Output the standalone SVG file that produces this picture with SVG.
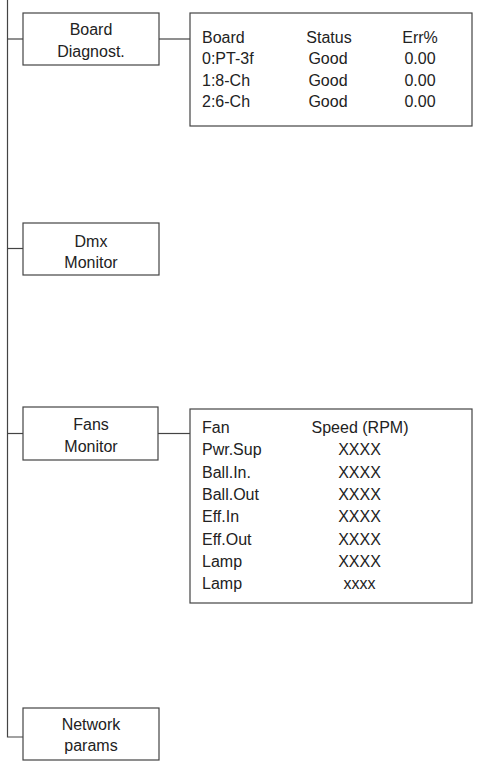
<svg xmlns="http://www.w3.org/2000/svg" width="477" height="765" viewBox="0 0 477 765">
<style>
.box{fill:#fff;stroke:#444;stroke-width:1.2}
.ln{fill:none;stroke:#444;stroke-width:1.2}
text{font-family:"Liberation Sans",Arial,sans-serif;font-size:16px;fill:#222}
.c{text-anchor:middle}
</style>
<rect width="477" height="765" fill="#fff"/>
<g id="connectors">
<path class="ln" d="M7.5 0V737H23"/>
<path class="ln" d="M7.5 39H23"/>
<path class="ln" d="M159 39H190"/>
<path class="ln" d="M7.5 248.5H23"/>
<path class="ln" d="M7.5 433.5H23"/>
<path class="ln" d="M158 433.5H190"/>
</g>
<g id="board">
<rect class="box" x="23" y="13" width="136" height="52"/>
<text class="c" x="91" y="35">Board</text>
<text class="c" x="91" y="57">Diagnost.</text>
</g>
<g id="board-table">
<rect class="box" x="190" y="13" width="282" height="113"/>
<text x="202" y="43">Board</text>
<text x="202" y="64">0:PT-3f</text>
<text x="202" y="85.5">1:8-Ch</text>
<text x="202" y="107">2:6-Ch</text>
<text class="c" x="329" y="43">Status</text>
<text class="c" x="328" y="64">Good</text>
<text class="c" x="328" y="85.5">Good</text>
<text class="c" x="328" y="107">Good</text>
<text class="c" x="420" y="43">Err%</text>
<text class="c" x="420" y="64">0.00</text>
<text class="c" x="420" y="85.5">0.00</text>
<text class="c" x="420" y="107">0.00</text>
</g>
<g id="dmx">
<rect class="box" x="23" y="223" width="136" height="52"/>
<text class="c" x="91" y="247">Dmx</text>
<text class="c" x="91" y="268">Monitor</text>
</g>
<g id="fans">
<rect class="box" x="23" y="407" width="135" height="53"/>
<text class="c" x="91" y="430">Fans</text>
<text class="c" x="91" y="452">Monitor</text>
</g>
<g id="fans-table">
<rect class="box" x="190" y="409" width="282" height="194"/>
<text x="202" y="433">Fan</text>
<text x="202" y="455">Pwr.Sup</text>
<text x="202" y="477.5">Ball.In.</text>
<text x="202" y="500">Ball.Out</text>
<text x="202" y="522">Eff.In</text>
<text x="202" y="544.5">Eff.Out</text>
<text x="202" y="567">Lamp</text>
<text x="202" y="589">Lamp</text>
<text class="c" x="360" y="433">Speed (RPM)</text>
<text class="c" x="359.5" y="455">XXXX</text>
<text class="c" x="359.5" y="477.5">XXXX</text>
<text class="c" x="359.5" y="500">XXXX</text>
<text class="c" x="359.5" y="522">XXXX</text>
<text class="c" x="359.5" y="544.5">XXXX</text>
<text class="c" x="359.5" y="567">XXXX</text>
<text class="c" x="359.5" y="589">xxxx</text>
</g>
<g id="network">
<rect class="box" x="23" y="708" width="136" height="52"/>
<text class="c" x="91" y="730">Network</text>
<text class="c" x="91" y="751">params</text>
</g>
</svg>
